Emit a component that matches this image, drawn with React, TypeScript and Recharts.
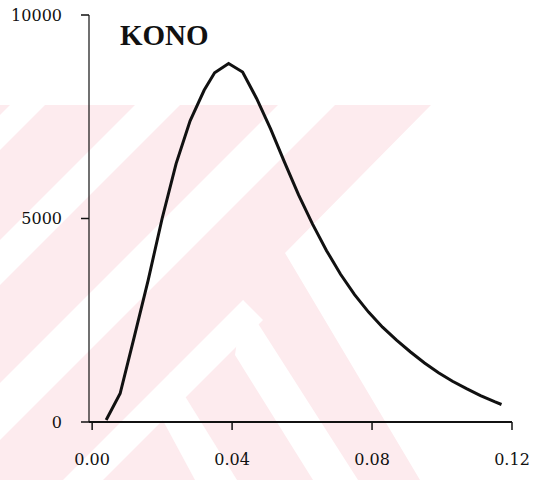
import { LineChart, Line, XAxis, YAxis } from "recharts";

// strain (x) and stress (y)
const strain = [
  0.004, 0.008, 0.012, 0.016, 0.02, 0.024, 0.028, 0.032, 0.035, 0.039, 0.043,
  0.047, 0.051, 0.055, 0.059, 0.063, 0.067, 0.071, 0.075, 0.079, 0.083, 0.087,
  0.091, 0.095, 0.099, 0.103, 0.107, 0.111, 0.115, 0.117,
];
const stress = [
  50, 700, 2080, 3480, 5000, 6350, 7400, 8150, 8580, 8810, 8600, 7950, 7200,
  6380, 5580, 4860, 4210, 3630, 3130, 2700, 2330, 2010, 1720, 1450, 1210, 1000,
  820, 650, 500, 430,
];
const xTicks = [0, 0.04, 0.08, 0.12];
const yTicks = [0, 5000, 10000];
const title = "KONO";

const data = strain.map((x, i) => ({ x, y: stress[i] }));

// faint pink scanner watermark behind the plot (decoration only)
const wmPink = "0,105 431,105 285,253 420,480 0,480";
const wmWhite = [
  "10,105 45,105 0,150 0,115",
  "135,105 180,105 0,285 0,240",
  "278,105 335,105 0,440 0,383",
  "243,300 63,480 103,480 263,320",
  "243,300 358,480 313,480 235,355",
  "170,372 237,480 195,480 160,415",
];

const tickFont = {
  fontFamily: "'DejaVu Serif', serif",
  fontSize: 16,
  fill: "#111",
};

export default function App() {
  return (
    <div
      style={{
        position: "absolute",
        left: 0,
        top: 0,
        width: 540,
        height: 483,
        background: "#fff",
      }}
    >
      <svg
        width={540}
        height={483}
        style={{ position: "absolute", left: 0, top: 0 }}
      >
        <polygon points={wmPink} fill="#fdebee" />
        {wmWhite.map((p, i) => (
          <polygon key={i} points={p} fill="#fff" />
        ))}
      </svg>
      <div style={{ position: "absolute", left: 0, top: 0 }}>
        <LineChart
          width={540}
          height={483}
          data={data}
          margin={{ top: 15, right: 28, bottom: 11, left: 0 }}
        >
          <XAxis
            type="number"
            dataKey="x"
            domain={[-0.0009, 0.12]}
            ticks={xTicks}
            allowDataOverflow
            tickFormatter={(v: number) => v.toFixed(2)}
            height={50}
            tickSize={8}
            tickMargin={24}
            axisLine={{ stroke: "#111", strokeWidth: 2 }}
            tickLine={{ stroke: "#111", strokeWidth: 1.5 }}
            tick={tickFont}
          />
          <YAxis
            type="number"
            domain={[0, 10000]}
            ticks={yTicks}
            width={89}
            tickSize={8}
            tickMargin={19}
            axisLine={{ stroke: "#111", strokeWidth: 1.2 }}
            tickLine={{ stroke: "#111", strokeWidth: 1.5 }}
            tick={tickFont}
          />
          <Line
            type="linear"
            dataKey="y"
            stroke="#111"
            strokeWidth={3}
            dot={false}
            isAnimationActive={false}
          />
        </LineChart>
      </div>
      <svg
        width={540}
        height={483}
        style={{ position: "absolute", left: 0, top: 0, pointerEvents: "none" }}
      >
        <text
          x={120}
          y={45}
          fontFamily="'Liberation Serif', serif"
          fontWeight="bold"
          fontSize={29}
          fill="#111"
        >
          {title}
        </text>
      </svg>
    </div>
  );
}
